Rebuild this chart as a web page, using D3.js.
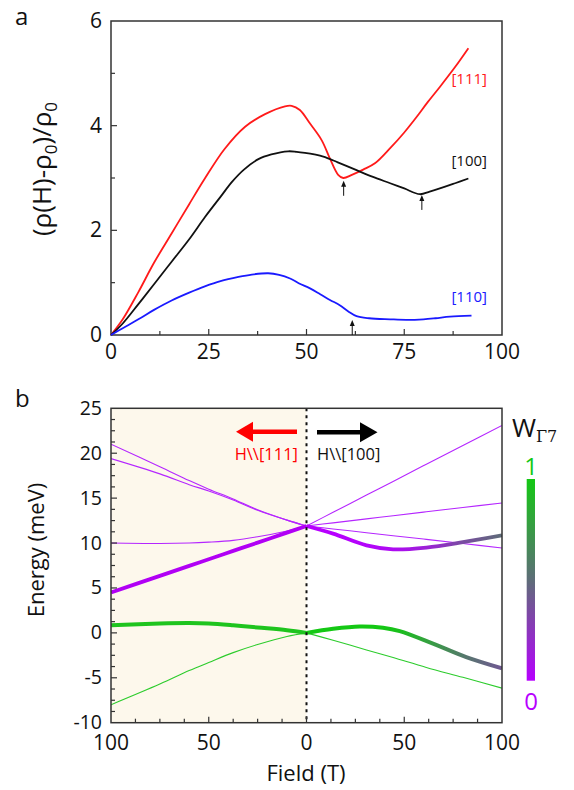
<!DOCTYPE html>
<html><head><meta charset="utf-8">
<script src="https://cdn.jsdelivr.net/npm/d3@7"></script>
<style>
html,body{margin:0;padding:0;background:#fff;}
svg text{font-family:"Open Sans","DejaVu Sans",sans-serif;}
</style></head>
<body>
<svg id="c" width="574" height="790"></svg>
<script>
// ---------- Panel a data: field (T) vs (rho(H)-rho0)/rho0 ----------
const fieldA100 = [0,3,7,11,15.5,20,24,28,31,34,37.7,41,45.3,47.5,49.6,52,54.3,58,62.8,67,71.4,75,79,81.5,84.1,88,91.4];
const mr100     = [0,0.22,0.59,0.97,1.40,1.83,2.25,2.64,2.93,3.16,3.36,3.45,3.51,3.50,3.48,3.45,3.41,3.30,3.15,3.02,2.90,2.80,2.69,2.74,2.80,2.90,2.99];
const fieldA111 = [0,3,7,11,15.5,20,24,29,34.3,39.4,44.5,46.2,48.3,50.9,53.9,56,58.1,59.4,61.6,64.5,67.5,71.4,75,78.2,81,84.1,88,91.4];
const mr111     = [0,0.30,0.82,1.38,1.94,2.50,2.99,3.55,3.98,4.22,4.37,4.38,4.30,4.04,3.72,3.37,3.06,3.00,3.06,3.16,3.28,3.57,3.87,4.17,4.45,4.74,5.12,5.48];
const fieldA110 = [0,3,7,11,15.5,20,24,28,32.6,36,40.2,43,45.8,48,50.9,53.5,56,58.5,60.7,62.8,66,71.4,75.5,79.9,83,86.7,92.2];
const mr110     = [0,0.13,0.30,0.48,0.66,0.81,0.93,1.03,1.11,1.155,1.18,1.15,1.08,0.99,0.89,0.78,0.67,0.57,0.45,0.36,0.32,0.30,0.29,0.30,0.32,0.35,0.37];
const seriesA = [
  {name:"[111]", color:"#ff1a1a", x:fieldA111, y:mr111, labelY:4.8},
  {name:"[100]", color:"#111111", x:fieldA100, y:mr100, labelY:3.22},
  {name:"[110]", color:"#1a1aff", x:fieldA110, y:mr110, labelY:0.63}
];
const arrowsA = [ {x:59.5, y:2.66}, {x:79.5, y:2.39}, {x:61.7, y:0.0} ];
const xTicksA = [0,25,50,75,100];
const yTicksA = [0,2,4,6];

// ---------- Panel b data: field (T) vs energy (meV) ----------
// Left half: H || [111]  (field plotted to the left)
const fL = [0,10,25,37.5,50,60,75,100];
const L_top1   = [11.9,12.55,13.7,14.9,16.0,16.95,18.5,21.0];
const L_top2   = [11.9,12.55,13.65,14.8,15.8,16.5,17.7,19.4];
const L_mid    = [11.9,11.35,10.7,10.3,10.1,10.0,9.95,10.0];
const L_thickP = [11.9,11.16,10.05,9.13,8.2,7.46,6.35,4.5];
const L_thickG = [0,0.3,0.6,0.85,1.05,1.1,1.05,0.85];
const L_thinG  = [0,-0.4,-1.3,-2.2,-3.3,-4.2,-5.7,-8.0];
// Right half: H || [100]
const fR = [0,13.6,30.7,44.3,61.3,80,100];
const R_top    = [11.9,13.42,15.34,16.86,18.77,20.86,23.1];
const R_mid    = [11.9,12.25,12.69,13.04,13.48,13.96,14.45];
const R_low    = [11.9,11.57,11.15,10.82,10.41,9.95,9.45];
const R_thickP = [11.9,11.05,9.74,9.3,9.5,10.1,10.86];
const R_thickPw= [0,0,0.02,0.05,0.15,0.35,0.5];
const fRg = [0,13.6,27.2,39.1,47.7,64.7,81.7,100];
const R_thickG = [0,0.46,0.72,0.58,0.2,-1.2,-2.7,-3.95];
const R_thickGw= [1,1,1,1,0.95,0.75,0.55,0.4];
const R_thinG  = [0,-0.82,-1.9,-2.75,-3.85,-4.95,-6.15];
const xTicksB = [-100,-50,0,50,100];
const yTicksB = [-10,-5,0,5,10,15,20,25];

// ---------- colours ----------
const wColor = d3.piecewise(d3.interpolateRgb, ["#b700ff","#5e6d78","#14c814"]);
const thinPurple = "#b526ff", thickPurple = "#b100f5", thinGreen = "#2ccc2c", thickGreen = "#1ec41e";

const svg = d3.select("#c");
const axisCol = "#333";

// ================= Panel a =================
const xa = d3.scaleLinear().domain([0,100]).range([111,502]);
const ya = d3.scaleLinear().domain([0,6]).range([335,21]);
const ga = svg.append("g");

ga.selectAll("line.xt").data(d3.range(12.5,100,12.5)).join("line")
  .attr("x1",d=>xa(d)).attr("x2",d=>xa(d)).attr("y1",ya(0)).attr("y2",d=>ya(0)-(d%25===0?6:4))
  .attr("stroke",axisCol).attr("stroke-width",1.2);
ga.selectAll("line.yt").data(d3.range(1,6,1)).join("line")
  .attr("y1",d=>ya(d)).attr("y2",d=>ya(d)).attr("x1",xa(0)).attr("x2",d=>xa(0)+(d%2===0?6:4))
  .attr("stroke",axisCol).attr("stroke-width",1.2);
ga.append("rect").attr("x",xa(0)).attr("y",ya(6)).attr("width",xa(100)-xa(0)).attr("height",ya(0)-ya(6))
  .attr("fill","none").attr("stroke",axisCol).attr("stroke-width",1.5);

ga.selectAll("text.xl").data(xTicksA).join("text")
  .attr("x",d=>xa(d)).attr("y",ya(0)+24).attr("text-anchor","middle")
  .attr("font-size",21).attr("fill","#111").text(d=>d);
ga.selectAll("text.yl").data(yTicksA).join("text")
  .attr("x",xa(0)-9).attr("y",d=>ya(d)+7).attr("text-anchor","end")
  .attr("font-size",21).attr("fill","#111").text(d=>d);

const lineA = d3.line().x(d=>xa(d[0])).y(d=>ya(d[1])).curve(d3.curveCatmullRom.alpha(0.5));
seriesA.forEach(s=>{
  ga.append("path").attr("d",lineA(s.x.map((v,i)=>[v,s.y[i]])))
    .attr("fill","none").attr("stroke",s.color).attr("stroke-width",1.8);
  ga.append("text").attr("x",487).attr("y",ya(s.labelY)).attr("text-anchor","end")
    .attr("font-size",15).attr("fill",s.color).text(s.name);
});
arrowsA.forEach(a=>{
  const x=xa(a.x), y0=ya(a.y), y1=y0-15;
  ga.append("line").attr("x1",x).attr("x2",x).attr("y1",y0).attr("y2",y1+4).attr("stroke","#111").attr("stroke-width",1);
  ga.append("path").attr("d",`M${x},${y1} L${x-2.5},${y1+6} L${x+2.5},${y1+6} Z`).attr("fill","#111");
});
ga.append("text").attr("x",15).attr("y",25).attr("font-size",24).attr("fill","#111").text("a");
ga.append("text").attr("transform",`translate(51,${(85+253)/2}) rotate(-90)`).attr("text-anchor","middle")
  .attr("font-size",26).attr("fill","#111")
  .html('(ρ(H)-ρ<tspan font-size="17" dy="6">0</tspan><tspan dy="-6">)/ρ</tspan><tspan font-size="17" dy="6">0</tspan>');

// ================= Panel b =================
const xb = d3.scaleLinear().domain([-100,100]).range([111,502]);
const yb = d3.scaleLinear().domain([-10,25]).range([722.7,408.3]);
const gb = svg.append("g");

gb.append("rect").attr("x",xb(-100)).attr("y",yb(25)).attr("width",xb(0)-xb(-100)).attr("height",yb(-10)-yb(25))
  .attr("fill","#fdf8ec");

const defs = svg.append("defs");
const cp = defs.append("clipPath").attr("id","clipb");
cp.append("rect").attr("x",xb(-100)).attr("y",yb(25)).attr("width",xb(100)-xb(-100)).attr("height",yb(-10)-yb(25));
const plot = gb.append("g").attr("clip-path","url(#clipb)");

const lineB = d3.line().x(d=>xb(d[0])).y(d=>yb(d[1])).curve(d3.curveCatmullRom.alpha(0.5));
const ptsL = arr => fL.map((f,i)=>[-f,arr[i]]).reverse();
const ptsR = (fs,arr) => fs.map((f,i)=>[f,arr[i]]);
function draw(pts, color, w){
  plot.append("path").attr("d",lineB(pts)).attr("fill","none").attr("stroke",color).attr("stroke-width",w);
}
draw(ptsL(L_top1), thinPurple, 1.1);
draw(ptsL(L_top2), thinPurple, 1.1);
draw(ptsL(L_mid), thinPurple, 1.1);
draw(ptsL(L_thinG), thinGreen, 1.1);
draw(ptsL(L_thickP), thickPurple, 3.8);
draw(ptsL(L_thickG), thickGreen, 4);
draw(ptsR(fR,R_top), thinPurple, 1.1);
draw(ptsR(fR,R_mid), thinPurple, 1.1);
draw(ptsR(fR,R_low), thinPurple, 1.1);
draw(ptsR(fR,R_thinG), thinGreen, 1.1);
function gradPath(id, fs, ys, ws, w){
  const g = defs.append("linearGradient").attr("id",id).attr("gradientUnits","userSpaceOnUse")
    .attr("x1",xb(0)).attr("x2",xb(100)).attr("y1",0).attr("y2",0);
  fs.forEach((f,i)=>g.append("stop").attr("offset",f/100).attr("stop-color",wColor(ws[i])));
  plot.append("path").attr("d",lineB(ptsR(fs,ys))).attr("fill","none")
    .attr("stroke",`url(#${id})`).attr("stroke-width",w);
}
gradPath("gP", fR, R_thickP, R_thickPw, 3.8);
gradPath("gG", fRg, R_thickG, R_thickGw, 4);

gb.append("line").attr("x1",xb(0)).attr("x2",xb(0)).attr("y1",yb(25)).attr("y2",yb(-10))
  .attr("stroke","#111").attr("stroke-width",2).attr("stroke-dasharray","3,4");

gb.selectAll("line.xt").data(d3.range(-87.5,100,12.5)).join("line")
  .attr("x1",d=>xb(d)).attr("x2",d=>xb(d)).attr("y1",yb(-10)).attr("y2",d=>yb(-10)-(d%50===0?6:4))
  .attr("stroke",axisCol).attr("stroke-width",1.2);
gb.selectAll("line.yt").data(d3.range(-8.75,25,1.25)).join("line")
  .attr("y1",d=>yb(d)).attr("y2",d=>yb(d)).attr("x1",xb(-100)).attr("x2",d=>xb(-100)+(Math.abs(d%5)<1e-6?6:4))
  .attr("stroke",axisCol).attr("stroke-width",1.2);
gb.append("rect").attr("x",xb(-100)).attr("y",yb(25)).attr("width",xb(100)-xb(-100)).attr("height",yb(-10)-yb(25))
  .attr("fill","none").attr("stroke",axisCol).attr("stroke-width",1.5);

gb.selectAll("text.xl").data(xTicksB).join("text")
  .attr("x",d=>xb(d)).attr("y",yb(-10)+27).attr("text-anchor","middle")
  .attr("font-size",21).attr("fill","#111").text(d=>Math.abs(d));
gb.selectAll("text.yl").data(yTicksB).join("text")
  .attr("x",xb(-100)-9).attr("y",d=>yb(d)+6.5).attr("text-anchor","end")
  .attr("font-size",19.5).attr("fill","#111").text(d=>d);

gb.append("text").attr("x",15).attr("y",407).attr("font-size",24).attr("fill","#111").text("b");
gb.append("text").attr("transform",`translate(44,${550}) rotate(-90)`).attr("text-anchor","middle")
  .attr("font-size",22).attr("fill","#111").text("Energy (meV)");
gb.append("text").attr("x",306).attr("y",781).attr("text-anchor","middle")
  .attr("font-size",22).attr("fill","#111").text("Field (T)");

gb.append("line").attr("x1",297).attr("x2",250).attr("y1",431.7).attr("y2",431.7).attr("stroke","#ff0000").attr("stroke-width",4.5);
gb.append("path").attr("d","M236,431.7 L253,421.7 L253,441.7 Z").attr("fill","#ff0000");
gb.append("text").attr("x",298).attr("y",460).attr("text-anchor","end").attr("font-size",16.5).attr("fill","#ff0000").text("H\\\\[111]");
gb.append("line").attr("x1",317).attr("x2",362).attr("y1",432.3).attr("y2",432.3).attr("stroke","#000").attr("stroke-width",4.5);
gb.append("path").attr("d","M377.5,432.3 L360,422.3 L360,442.3 Z").attr("fill","#000");
gb.append("text").attr("x",317).attr("y",460).attr("font-size",16.5).attr("fill","#111").text("H\\\\[100]");

const cg = defs.append("linearGradient").attr("id","cbar").attr("x1",0).attr("x2",0).attr("y1",1).attr("y2",0);
d3.range(0,1.0001,0.1).forEach(t=>cg.append("stop").attr("offset",t).attr("stop-color",wColor(t)));
gb.append("rect").attr("x",526.7).attr("y",479).attr("width",8.3).attr("height",201.7).attr("fill","url(#cbar)");
gb.append("text").attr("x",531).attr("y",475).attr("text-anchor","middle").attr("font-size",24).attr("fill",wColor(1)).text("1");
gb.append("text").attr("x",531).attr("y",710).attr("text-anchor","middle").attr("font-size",24).attr("fill",wColor(0)).text("0");
gb.append("text").attr("x",512).attr("y",437).attr("font-size",26).attr("fill","#111")
  .html('W<tspan font-family="DejaVu Serif, Liberation Serif, serif" font-size="16" dy="5">Γ7</tspan>');
</script>
</body></html>
